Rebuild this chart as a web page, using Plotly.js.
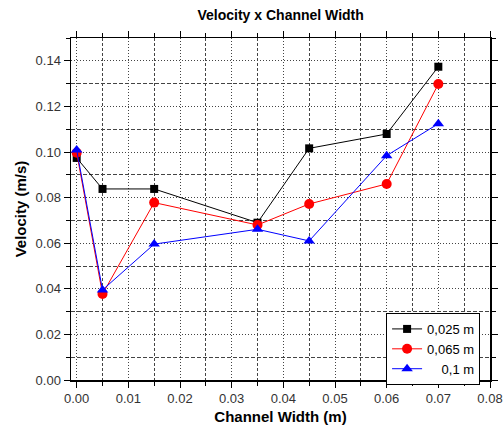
<!DOCTYPE html>
<html><head><meta charset="utf-8">
<script src="https://cdn.plot.ly/plotly-3.0.1.min.js"></script>
<style>html,body{margin:0;padding:0;background:#fff}#chart{width:503px;height:430px}</style>
</head><body><div id="chart"></div>
<script>
const widths = [0, 0.005, 0.015, 0.035, 0.045, 0.06, 0.07];
const seriesNames = ['0,025 m', '0,065 m', '&nbsp;&nbsp;&nbsp;&nbsp;0,1 m'];
const v025 = [0.0974, 0.0838, 0.0838, 0.0690, 0.1016, 0.1079, 0.1374];
const v065 = [0.0997, 0.0377, 0.0778, 0.0680, 0.0772, 0.0860, 0.1298];
const v01  = [0.1009, 0.0395, 0.0596, 0.0661, 0.0610, 0.0984, 0.1124];

const FONT = 'Arial, Liberation Sans, sans-serif';

const traces = [
  {x: widths, y: v025, name: seriesNames[0], mode: 'lines+markers',
   line: {color: '#000000', width: 1}, marker: {symbol: 'square', size: 8, color: '#000000'}},
  {x: widths, y: v065, name: seriesNames[1], mode: 'lines+markers',
   line: {color: '#ff0000', width: 1}, marker: {symbol: 'circle', size: 10, color: '#ff0000'}},
  {x: widths, y: v01, name: seriesNames[2], mode: 'lines+markers',
   line: {color: '#0000ff', width: 1}, marker: {symbol: 'triangle-up', size: 10, color: '#0000ff'}}
];

const axisCommon = {
  showline: true, linecolor: '#000', linewidth: 1.5, mirror: 'allticks',
  ticks: 'outside', ticklen: 6, tickcolor: '#000', tickwidth: 1,
  showgrid: true, gridcolor: '#444', gridwidth: 1, griddash: '1px,2px',
  zeroline: false, tickfont: {family: FONT, size: 13, color: '#333'},
  tickformat: '.2f', automargin: false
};

const layout = {
  width: 503, height: 430,
  margin: {l: 71, r: 13, t: 38, b: 50},
  paper_bgcolor: '#fff', plot_bgcolor: '#fff',
  title: {text: '<b>Velocity x Channel Width</b>', x: 0.558, xanchor: 'center',
          yref: 'container', y: 0.965, yanchor: 'middle',
          font: {family: FONT, size: 14, color: '#000'}},
  xaxis: Object.assign({}, axisCommon, {
    range: [-0.0011, 0.08], dtick: 0.01, tick0: 0,
    minor: {dtick: 0.005, ticks: 'outside', ticklen: 4, tickcolor: '#000', showgrid: true,
            gridcolor: '#444', griddash: '3px,2px', gridwidth: 1},
    title: {text: '<b>Channel Width (m)</b>', standoff: 6,
            font: {family: FONT, size: 15, color: '#000'}}
  }),
  yaxis: Object.assign({}, axisCommon, {
    range: [0, 0.15], dtick: 0.02, tick0: 0,
    minor: {dtick: 0.01, ticks: 'outside', ticklen: 4, tickcolor: '#000', showgrid: true,
            gridcolor: '#444', griddash: '4px,2px', gridwidth: 1},
    title: {text: '<b>Velocity (m/s)</b>', standoff: 5,
            font: {family: FONT, size: 15, color: '#000'}}
  }),
  legend: {x: 0.752, xanchor: 'left', y: 0.196, yanchor: 'top',
           bgcolor: '#fff', bordercolor: '#000', borderwidth: 1,
           font: {family: FONT, size: 13, color: '#000'},
           tracegroupgap: 0, itemwidth: 30},
  showlegend: true
};

Plotly.newPlot('chart', traces, layout, {displayModeBar: false, staticPlot: true});
</script>
</body></html>
